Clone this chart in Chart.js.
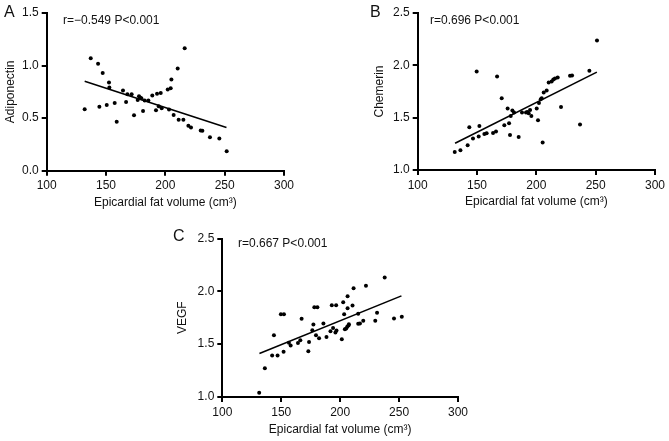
<!DOCTYPE html>
<html>
<head>
<meta charset="utf-8">
<script src="https://cdn.jsdelivr.net/npm/chart.js@4.4.1/dist/chart.umd.min.js"></script>
<style>
  body { margin: 0; background: #fff; }
  #wrap { position: relative; width: 669px; height: 441px; font-family: "Liberation Sans", Arial, sans-serif; color: #111; }
  canvas { position: absolute; }
  .letter { position: absolute; font-size: 16px; line-height: 16px; }
  .note { position: absolute; font-size: 12px; line-height: 12px; white-space: nowrap; }
</style>
</head>
<body>
<div id="wrap">
  <canvas id="chartA" width="310" height="220" style="left:0;top:0"></canvas>
  <canvas id="chartB" width="334" height="220" style="left:335px;top:0"></canvas>
  <canvas id="chartC" width="330" height="221" style="left:170px;top:220px"></canvas>
  <div class="letter" style="left:4px;top:4px">A</div>
  <div class="letter" style="left:370px;top:4px">B</div>
  <div class="letter" style="left:173px;top:228px">C</div>
  <div class="note" style="left:63px;top:14px">r=−0.549 P&lt;0.001</div>
  <div class="note" style="left:430px;top:14px">r=0.696 P&lt;0.001</div>
  <div class="note" style="left:238px;top:237px">r=0.667 P&lt;0.001</div>
</div>
<script>
// Panel A: adiponectin vs epicardial fat volume
const volA = [132.0, 137.1, 143.3, 147.2, 144.4, 150.6, 152.5, 152.8, 157.3, 159.0, 164.3, 166.9, 168.0, 171.6, 173.6,
  176.7, 177.8, 178.7, 179.8, 181.2, 182.6, 185.7, 189.0, 192.1, 193.0, 196.1, 194.4, 196.9, 202.0, 204.5, 205.1,
  203.1, 207.0, 210.4, 211.2, 215.2, 216.3, 219.4, 221.6, 229.8, 231.2, 237.6, 245.5, 251.7];
const adiponectin = [0.584, 1.069, 1.018, 0.929, 0.609, 0.625, 0.839, 0.791, 0.645, 0.466, 0.763, 0.654, 0.728, 0.728, 0.527,
  0.673, 0.708, 0.696, 0.689, 0.568, 0.667, 0.667, 0.715, 0.574, 0.731, 0.740, 0.613, 0.594, 0.772, 0.785, 0.868,
  0.581, 0.530, 0.973, 0.485, 0.485, 1.165, 0.428, 0.412, 0.383, 0.380, 0.319, 0.306, 0.185];
const fitA = [[132, 0.85], [251.5, 0.41]];

// Panel B: chemerin
const volB = [131.2, 136.0, 142.1, 143.5, 146.6, 149.7, 151.4, 152.0, 156.2, 158.1, 163.5, 166.0, 166.9, 170.8, 173.0,
  175.8, 177.0, 177.8, 178.4, 179.8, 181.2, 185.1, 187.9, 191.3, 192.4, 193.5, 194.7, 195.8, 200.3, 201.4, 202.2,
  203.7, 204.5, 205.3, 206.2, 208.7, 210.4, 212.9, 214.3, 215.7, 218.0, 220.8, 228.4, 230.1, 236.8, 244.7, 251.1];
const chemerin = [1.172, 1.188, 1.236, 1.408, 1.300, 1.941, 1.319, 1.421, 1.345, 1.351, 1.354, 1.367, 1.894, 1.686, 1.428,
  1.587, 1.447, 1.335, 1.517, 1.568, 1.549, 1.316, 1.549, 1.549, 1.555, 1.542, 1.574, 1.517, 1.587, 1.475, 1.641,
  1.676, 1.686, 1.262, 1.740, 1.759, 1.836, 1.846, 1.865, 1.874, 1.884, 1.603, 1.900, 1.903, 1.434, 1.948, 2.238];
const fitB = [[131.5, 1.255], [251, 1.935]];

// Panel C: VEGF
const volC = [131.3, 136.1, 142.3, 143.8, 146.9, 149.7, 152.3, 152.0, 156.5, 158.0, 164.2, 166.2, 167.3, 173.0, 173.6,
  176.4, 177.3, 178.1, 180.7, 179.5, 182.1, 185.8, 188.4, 191.8, 192.9, 194.0, 196.0, 196.6, 196.9, 201.4, 202.6,
  203.4, 204.0, 205.1, 206.3, 206.3, 206.0, 207.1, 207.4, 210.5, 211.4, 215.3, 215.3, 216.8, 219.6, 221.9, 229.8,
  231.3, 237.8, 245.7, 252.3];
const vegf = [1.041, 1.271, 1.393, 1.584, 1.393, 1.782, 1.782, 1.428, 1.514, 1.488, 1.511, 1.536, 1.740, 1.434, 1.520,
  1.632, 1.686, 1.849, 1.849, 1.584, 1.555, 1.696, 1.568, 1.622, 1.868, 1.654, 1.610, 1.868, 1.629, 1.546, 1.897,
  1.782, 1.641, 1.648, 1.839, 1.954, 1.664, 1.677, 1.689, 1.865, 2.028, 1.693, 1.788, 1.696, 1.721, 2.053, 1.721,
  1.798, 2.130, 1.744, 1.760];
const fitC = [[131.5, 1.412], [252, 1.957]];

const xTicks = [100, 150, 200, 250, 300];
const xTitle = "Epicardial fat volume (cm³)";

Chart.defaults.font.family = '"Liberation Sans", Arial, sans-serif';
Chart.defaults.font.size = 12;
Chart.defaults.color = "#111";

function makePanel(id, xs, ys, fit, yRange, yTitle, box) {
  const ctx = document.getElementById(id).getContext("2d");
  const canvasH = ctx.canvas.height;
  const axisGrid = { drawOnChartArea: false, color: "#000", lineWidth: 2, tickLength: 5 };
  const axisBorder = { color: "#000", width: 2 };

  return new Chart(ctx, {
    type: "scatter",
    data: {
      datasets: [
        {
          data: xs.map((x, i) => ({ x: x, y: ys[i] })),
          pointRadius: 2,
          pointBackgroundColor: "#000",
          pointBorderWidth: 0
        },
        {
          data: fit.map(p => ({ x: p[0], y: p[1] })),
          showLine: true,
          pointRadius: 0,
          borderColor: "#000",
          borderWidth: 1.6
        }
      ]
    },
    options: {
      responsive: false,
      animation: false,
      devicePixelRatio: 1,
      layout: { padding: { left: 0, top: box.top, right: box.right, bottom: 0 } },
      plugins: { legend: { display: false }, tooltip: { enabled: false } },
      scales: {
        x: {
          type: "linear",
          min: xTicks[0],
          max: xTicks[xTicks.length - 1],
          afterBuildTicks: s => { s.ticks = xTicks.map(v => ({ value: v })); },
          afterFit: s => { s.height = canvasH - box.bottom; },
          grid: axisGrid,
          border: axisBorder,
          ticks: { padding: 3, maxRotation: 0 },
          title: { display: true, text: xTitle, padding: { top: 4, bottom: box.xTitlePad } }
        },
        y: {
          min: yRange[0],
          max: yRange[yRange.length - 1],
          afterBuildTicks: s => { s.ticks = yRange.map(v => ({ value: v })); },
          afterFit: s => { s.width = box.left; },
          grid: axisGrid,
          border: axisBorder,
          ticks: { padding: 3, callback: v => v.toFixed(1) },
          title: { display: true, text: yTitle, padding: { top: box.yTitlePad, bottom: 0 } }
        }
      }
    }
  });
}

makePanel("chartA", volA, adiponectin, fitA, [0, 0.5, 1.0, 1.5], "Adiponectin",
  { left: 46.7, right: 26, top: 13, bottom: 170.7, xTitlePad: 9.8, yTitlePad: 3.8 });
makePanel("chartB", volB, chemerin, fitB, [1.0, 1.5, 2.0, 2.5], "Chemerin",
  { left: 82.7, right: 14, top: 13, bottom: 170, xTitlePad: 11, yTitlePad: 37.8 });
makePanel("chartC", volC, vegf, fitC, [1.0, 1.5, 2.0, 2.5], "VEGF",
  { left: 52.3, right: 42, top: 18.5, bottom: 177, xTitlePad: 3.8, yTitlePad: 5.8 });
</script>
</body>
</html>
